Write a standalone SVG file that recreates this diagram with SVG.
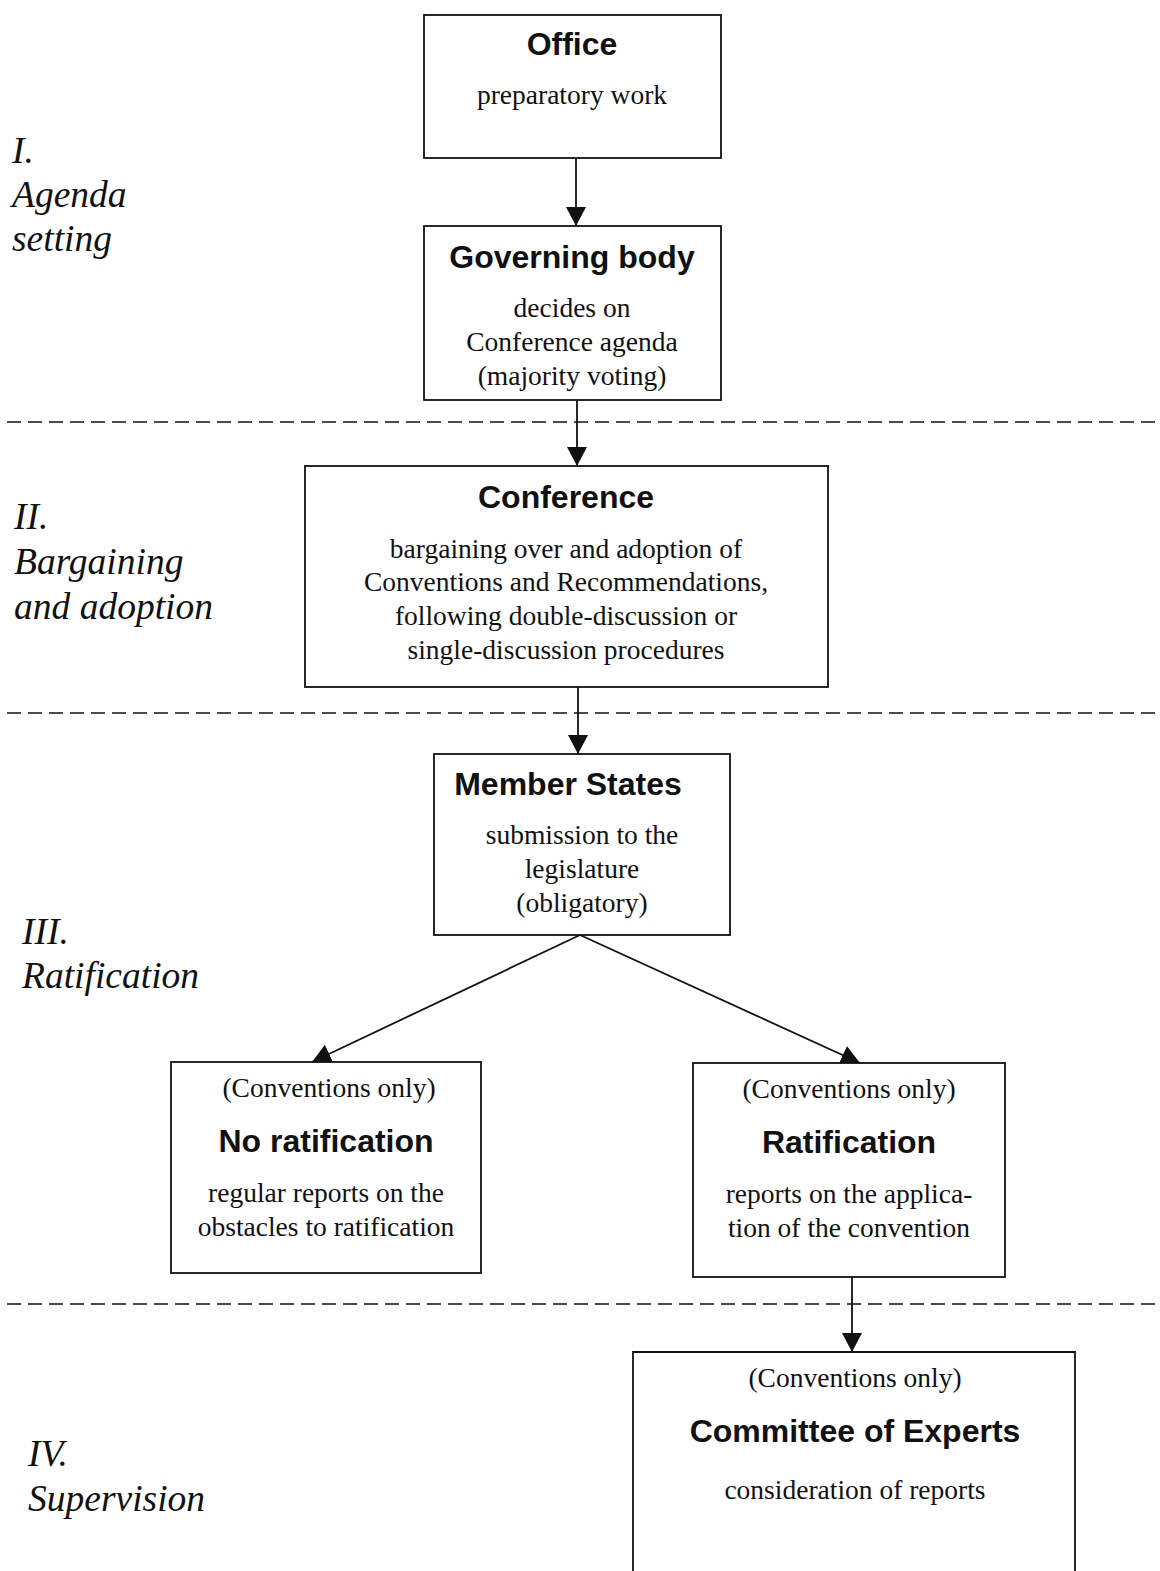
<svg xmlns="http://www.w3.org/2000/svg" width="1160" height="1571" viewBox="0 0 1160 1571">
<style>
.box{fill:#fff;stroke:#111;stroke-width:1.8}
.h{font-family:"Liberation Sans",Arial,sans-serif;font-weight:bold;font-size:32px;fill:#111;text-anchor:middle}
.t{font-family:"Liberation Serif","Times New Roman",serif;font-size:27.5px;fill:#111;text-anchor:middle}
.lab{font-family:"Liberation Serif","Times New Roman",serif;font-style:italic;font-size:37.5px;fill:#111}
.sep{stroke:#111;stroke-width:1.6;stroke-dasharray:14 7;fill:none}
.con{stroke:#111;stroke-width:1.8;fill:none;marker-end:url(#ah)}
</style>
<defs>
<marker id="ah" markerUnits="userSpaceOnUse" markerWidth="22" markerHeight="22" refX="19" refY="10" orient="auto">
<path d="M0,0 L19,10 L0,20 Z" fill="#111"/>
</marker>
</defs>
<rect width="1160" height="1571" fill="#fff"/>
<g id="separators">
<line class="sep" x1="7" y1="422" x2="1160" y2="422"/>
<line class="sep" x1="7" y1="713" x2="1160" y2="713"/>
<line class="sep" x1="7" y1="1304" x2="1160" y2="1304"/>
</g>
<g id="stage-labels">
<text class="lab" x="12" y="163">I.</text>
<text class="lab" x="12" y="207">Agenda</text>
<text class="lab" x="12" y="251">setting</text>
<text class="lab" x="14" y="529">II.</text>
<text class="lab" x="14" y="574">Bargaining</text>
<text class="lab" x="14" y="619">and adoption</text>
<text class="lab" x="22" y="944">III.</text>
<text class="lab" x="22" y="988">Ratification</text>
<text class="lab" x="28" y="1466">IV.</text>
<text class="lab" x="28" y="1511">Supervision</text>
</g>
<g id="connectors">
<line class="con" x1="576" y1="158" x2="576" y2="226"/>
<line class="con" x1="577" y1="400" x2="577" y2="466"/>
<line class="con" x1="578" y1="687" x2="578" y2="754"/>
<line class="con" x1="580" y1="935" x2="312" y2="1062"/>
<line class="con" x1="580" y1="935" x2="860" y2="1063"/>
<line class="con" x1="852" y1="1277" x2="852" y2="1352"/>
</g>
<g id="office">
<rect class="box" x="424" y="15" width="297" height="143"/>
<text class="h" x="572" y="55">Office</text>
<text class="t" x="572" y="104">preparatory work</text>
</g>
<g id="governing-body">
<rect class="box" x="424" y="226" width="297" height="174"/>
<text class="h" x="572" y="268">Governing body</text>
<text class="t" x="572" y="317">decides on</text>
<text class="t" x="572" y="351">Conference agenda</text>
<text class="t" x="572" y="385">(majority voting)</text>
</g>
<g id="conference">
<rect class="box" x="305" y="466" width="523" height="221"/>
<text class="h" x="566" y="508">Conference</text>
<text class="t" x="566" y="558">bargaining over and adoption of</text>
<text class="t" x="566" y="591">Conventions and Recommendations,</text>
<text class="t" x="566" y="625">following double-discussion or</text>
<text class="t" x="566" y="659">single-discussion procedures</text>
</g>
<g id="member-states">
<rect class="box" x="434" y="754" width="296" height="181"/>
<text class="h" x="568" y="795">Member States</text>
<text class="t" x="582" y="844">submission to the</text>
<text class="t" x="582" y="878">legislature</text>
<text class="t" x="582" y="912">(obligatory)</text>
</g>
<g id="no-ratification">
<rect class="box" x="171" y="1062" width="310" height="211"/>
<text class="t" x="329" y="1097">(Conventions only)</text>
<text class="h" x="326" y="1152">No ratification</text>
<text class="t" x="326" y="1202">regular reports on the</text>
<text class="t" x="326" y="1236">obstacles to ratification</text>
</g>
<g id="ratification">
<rect class="box" x="693" y="1063" width="312" height="214"/>
<text class="t" x="849" y="1098">(Conventions only)</text>
<text class="h" x="849" y="1153">Ratification</text>
<text class="t" x="849" y="1203">reports on the applica-</text>
<text class="t" x="849" y="1237">tion of the convention</text>
</g>
<g id="committee-of-experts">
<path class="box" d="M633,1575 L633,1352 L1075,1352 L1075,1575"/>
<text class="t" x="855" y="1387">(Conventions only)</text>
<text class="h" x="855" y="1442">Committee of Experts</text>
<text class="t" x="855" y="1499">consideration of reports</text>
</g>
</svg>
